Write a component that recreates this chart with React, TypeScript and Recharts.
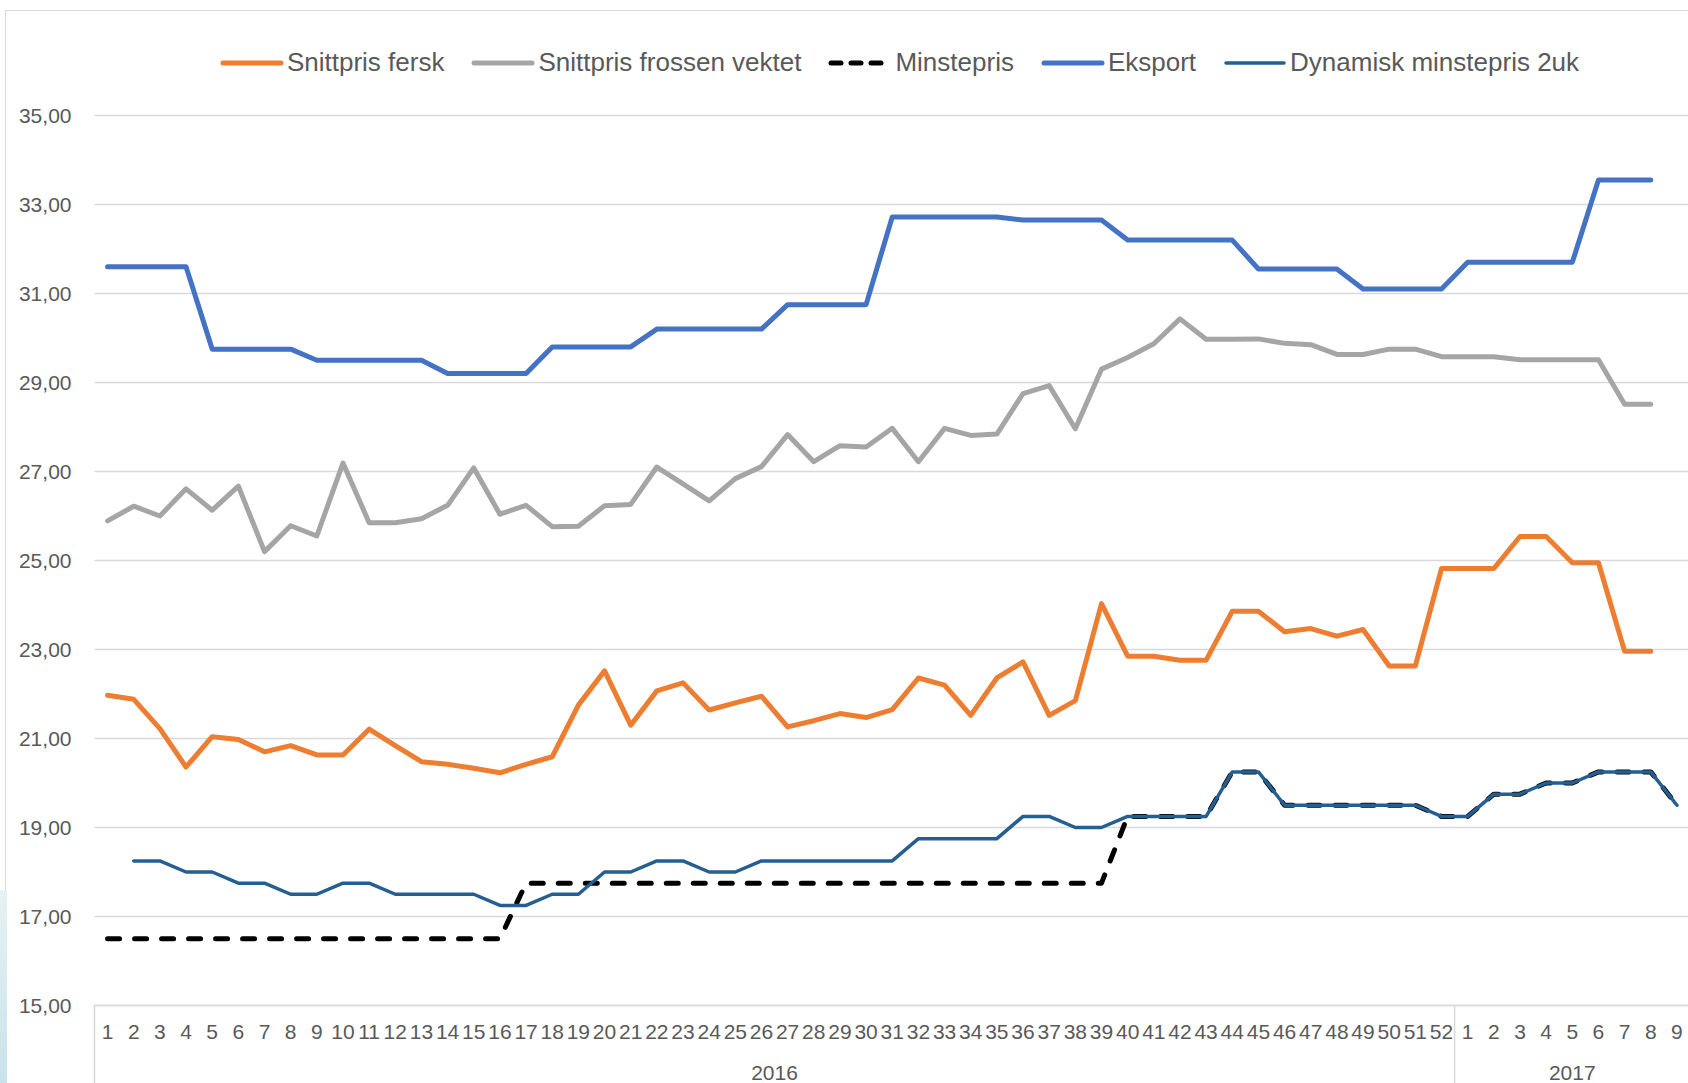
import React from 'react';
import { LineChart, Line, XAxis, YAxis, CartesianGrid, Legend } from 'recharts';

// week labels (2016 weeks 1-52, then 2017 weeks 1-9)
const weeks = [
  1, 2, 3, 4, 5, 6, 7, 8, 9, 10, 11, 12, 13, 14, 15, 16, 17, 18, 19, 20, 21, 22, 23, 24, 25, 26,
  27, 28, 29, 30, 31, 32, 33, 34, 35, 36, 37, 38, 39, 40, 41, 42, 43, 44, 45, 46, 47, 48, 49, 50, 51, 52,
  1, 2, 3, 4, 5, 6, 7, 8, 9,
];
const years = [...Array(52).fill('2016'), ...Array(9).fill('2017')];

const snittprisFersk = [
  21.97, 21.88, 21.22, 20.36, 21.04, 20.98, 20.7, 20.84, 20.63, 20.63,
  21.21, 20.84, 20.48, 20.42, 20.33, 20.23, 20.42, 20.59, 21.75, 22.52,
  21.3, 22.07, 22.25, 21.64, 21.8, 21.95, 21.26, 21.4, 21.56, 21.47,
  21.65, 22.36, 22.2, 21.52, 22.36, 22.72, 21.52, 21.85, 24.03, 22.85,
  22.85, 22.76, 22.76, 23.86, 23.86, 23.4, 23.47, 23.3, 23.45, 22.63,
  22.63, 24.82,
  24.82, 24.82, 25.54, 25.54, 24.95, 24.95, 22.96, 22.96, null,
];
const snittprisFrossen = [
  25.89, 26.22, 26.0, 26.61, 26.13, 26.67, 25.2, 25.78, 25.55, 27.19,
  25.85, 25.85, 25.94, 26.24, 27.08, 26.04, 26.24, 25.76, 25.77, 26.23,
  26.26, 27.1, 26.72, 26.34, 26.84, 27.11, 27.83, 27.22, 27.58, 27.55,
  27.97, 27.22, 27.97, 27.81, 27.84, 28.75, 28.93, 27.96, 29.3, 29.56,
  29.87, 30.43, 29.97, 29.97, 29.98, 29.88, 29.85, 29.63, 29.63, 29.75,
  29.75, 29.58,
  29.58, 29.58, 29.51, 29.51, 29.51, 29.51, 28.51, 28.51, null,
];
const minstepris = [
  16.5, 16.5, 16.5, 16.5, 16.5, 16.5, 16.5, 16.5, 16.5, 16.5,
  16.5, 16.5, 16.5, 16.5, 16.5, 16.5, 17.75, 17.75, 17.75, 17.75,
  17.75, 17.75, 17.75, 17.75, 17.75, 17.75, 17.75, 17.75, 17.75, 17.75,
  17.75, 17.75, 17.75, 17.75, 17.75, 17.75, 17.75, 17.75, 17.75, 19.25,
  19.25, 19.25, 19.25, 20.25, 20.25, 19.5, 19.5, 19.5, 19.5, 19.5,
  19.5, 19.25,
  19.25, 19.75, 19.75, 20.0, 20.0, 20.25, 20.25, 20.25, 19.5,
];
const eksport = [
  31.6, 31.6, 31.6, 31.6, 29.75, 29.75, 29.75, 29.75, 29.5, 29.5,
  29.5, 29.5, 29.5, 29.2, 29.2, 29.2, 29.2, 29.8, 29.8, 29.8,
  29.8, 30.2, 30.2, 30.2, 30.2, 30.2, 30.75, 30.75, 30.75, 30.75,
  32.72, 32.72, 32.72, 32.72, 32.72, 32.65, 32.65, 32.65, 32.65, 32.2,
  32.2, 32.2, 32.2, 32.2, 31.55, 31.55, 31.55, 31.55, 31.1, 31.1,
  31.1, 31.1,
  31.7, 31.7, 31.7, 31.7, 31.7, 33.55, 33.55, 33.55, null,
];
const dynamiskMinstepris = [
  null, 18.25, 18.25, 18.0, 18.0, 17.75, 17.75, 17.5, 17.5, 17.75,
  17.75, 17.5, 17.5, 17.5, 17.5, 17.25, 17.25, 17.5, 17.5, 18.0,
  18.0, 18.25, 18.25, 18.0, 18.0, 18.25, 18.25, 18.25, 18.25, 18.25,
  18.25, 18.75, 18.75, 18.75, 18.75, 19.25, 19.25, 19.0, 19.0, 19.25,
  19.25, 19.25, 19.25, 20.25, 20.25, 19.5, 19.5, 19.5, 19.5, 19.5,
  19.5, 19.25,
  19.25, 19.75, 19.75, 20.0, 20.0, 20.25, 20.25, 20.25, 19.5,
];

const yTicks = [15, 17, 19, 21, 23, 25, 27, 29, 31, 33, 35];

const data = weeks.map((w, i) => ({
  key: `${years[i]}-${w}`,
  fersk: snittprisFersk[i],
  frossen: snittprisFrossen[i],
  minstepris: minstepris[i],
  eksport: eksport[i],
  dynamisk: dynamiskMinstepris[i],
}));

const CHART_W = 1700;
const CHART_H = 1083;
const Y_AXIS_W = 94.5;
const RIGHT = 10;
const PLOT_W = CHART_W - Y_AXIS_W - RIGHT;
const BAND = PLOT_W / weeks.length;
const TEXT = '#595959';
const GRID = '#D9D9D9';
const FONT = "'Liberation Sans Narrow', 'Liberation Sans', sans-serif";

// where each year's label sits (center of its group, in category units)
const yearGroups = years.reduce((acc: any[], y, i) => {
  const last = acc[acc.length - 1];
  if (last && last.year === y) last.end = i;
  else acc.push({ year: y, start: i, end: i });
  return acc;
}, []);

// series in Excel order (also legend order)
const seriesList = [
  { key: 'fersk', name: 'Snittpris fersk', color: '#ED7D31', width: 5 },
  { key: 'frossen', name: 'Snittpris frossen vektet', color: '#A5A5A5', width: 5 },
  { key: 'minstepris', name: 'Minstepris', color: '#000000', width: 5, dash: '12 15' },
  { key: 'eksport', name: 'Eksport', color: '#4472C4', width: 5 },
  { key: 'dynamisk', name: 'Dynamisk minstepris 2uk', color: '#255E91', width: 3.5 },
];

const WeekTick = (props: any) => {
  const { x, y, index } = props;
  const half = BAND / 2;
  const group = yearGroups.find((g) => g.start === index);
  const center = yearGroups.find((g) => Math.floor((g.start + g.end) / 2) === index);
  return (
    <g>
      <text x={x} y={y + 26} textAnchor="middle" dominantBaseline="central" fontSize={21} fill={TEXT}>
        {weeks[index]}
      </text>
      {group && (
        <line x1={x - half} x2={x - half} y1={y} y2={y + 90} stroke={GRID} strokeWidth={1.5} />
      )}
      {center && (
        <text
          x={x + ((center.start + center.end) / 2 - index) * BAND}
          y={y + 67}
          textAnchor="middle"
          dominantBaseline="central"
          fontSize={21}
          fill={TEXT}
        >
          {center.year}
        </text>
      )}
    </g>
  );
};

const renderLegend = () => (
  <div style={{ display: 'flex', justifyContent: 'center', alignItems: 'center', gap: 27 }}>
    {seriesList.map((s) => (
      <div key={s.key} style={{ display: 'flex', alignItems: 'center' }}>
        <svg width={64} height={10}>
          <line
            x1={3}
            x2={61}
            y1={5}
            y2={5}
            stroke={s.color}
            strokeWidth={s.width}
            strokeDasharray={s.dash ? '10 10' : undefined}
            strokeLinecap="round"
          />
        </svg>
        <span style={{ marginLeft: 3, fontSize: 26, color: TEXT, whiteSpace: 'nowrap' }}>{s.name}</span>
      </div>
    ))}
  </div>
);

export default function App() {
  return (
    <div
      style={{
        position: 'absolute',
        left: 0,
        top: 0,
        width: 1688,
        height: 1083,
        overflow: 'hidden',
        background: '#fff',
        fontFamily: FONT,
      }}
    >
      <div
        style={{
          position: 'absolute',
          left: 5,
          top: 10,
          width: 1720,
          height: 1100,
          border: `1.5px solid ${GRID}`,
        }}
      />
      <div
        style={{
          position: 'absolute',
          left: 0,
          top: 890,
          width: 7,
          height: 193,
          background: 'linear-gradient(to bottom, #e6f2f5, #c9e2ea)',
        }}
      />
      <div style={{ position: 'absolute', left: 0, top: 0 }}>
        <LineChart
          width={CHART_W}
          height={CHART_H}
          data={data}
          margin={{ top: 115.5, right: RIGHT, left: 0, bottom: 17.5 }}
        >
          <CartesianGrid vertical={false} stroke={GRID} strokeWidth={1.5} />
          <XAxis
            dataKey="key"
            interval={0}
            height={60}
            padding={{ left: BAND / 2, right: BAND / 2 }}
            axisLine={{ stroke: GRID, strokeWidth: 1.5 }}
            tickLine={false}
            tickSize={0}
            tickMargin={0}
            tick={<WeekTick />}
          />
          <YAxis
            width={Y_AXIS_W}
            domain={[15, 35]}
            ticks={yTicks}
            axisLine={false}
            tickLine={false}
            tickSize={0}
            tickMargin={23}
            tickFormatter={(v: number) => v.toFixed(2).replace('.', ',')}
            tick={{ fontSize: 21, fill: TEXT }}
          />
          <Legend
            verticalAlign="middle"
            align="center"
            content={renderLegend}
            wrapperStyle={{ top: 47, left: 0, width: 1799, height: 34 }}
          />
          {seriesList.map((s) => (
            <Line
              key={s.key}
              type="linear"
              dataKey={s.key}
              name={s.name}
              stroke={s.color}
              strokeWidth={s.width}
              strokeDasharray={s.dash}
              strokeLinejoin="round"
              strokeLinecap="round"
              dot={false}
              isAnimationActive={false}
            />
          ))}
        </LineChart>
      </div>
    </div>
  );
}
